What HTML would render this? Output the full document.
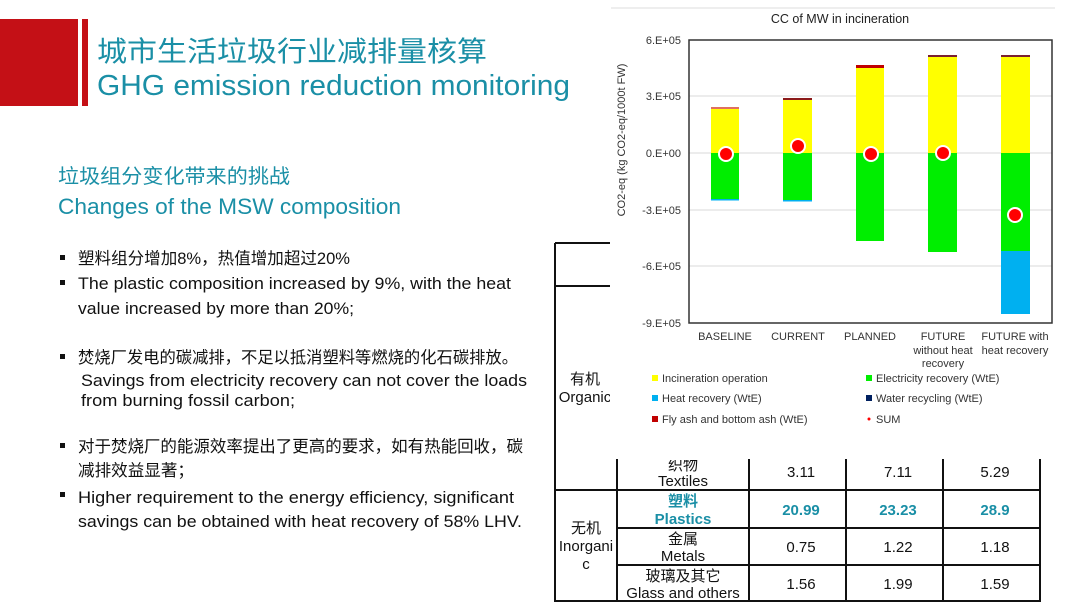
<!DOCTYPE html>
<html><head><meta charset="utf-8"><style>
html,body{margin:0;padding:0;background:#fff;}
svg{display:block;}
.cn{font-family:"Liberation Sans","Noto Sans CJK SC",sans-serif;}
.t{fill:#1a8fa6;}
.b{fill:#111;font-size:16.5px;}
.ax{font-family:"Liberation Sans",sans-serif;font-size:11px;fill:#333;}
.tb{font-family:"Liberation Sans","Noto Sans CJK SC",sans-serif;font-size:15px;fill:#111;text-anchor:middle;}
</style></head><body>
<svg width="1080" height="608" xmlns="http://www.w3.org/2000/svg">
<rect x="0" y="19" width="78" height="87" fill="#c41016"/>
<rect x="82" y="19" width="6" height="87" fill="#c41016"/>
<text class="cn t" x="97" y="61" font-size="28" textLength="390" lengthAdjust="spacingAndGlyphs">城市生活垃圾行业减排量核算</text>
<text class="cn t" x="97" y="95" font-size="29" textLength="473" lengthAdjust="spacingAndGlyphs">GHG emission reduction monitoring</text>
<text class="cn t" x="58" y="183" font-size="20" textLength="232" lengthAdjust="spacingAndGlyphs">垃圾组分变化带来的挑战</text>
<text class="cn t" x="58" y="214" font-size="22" textLength="343" lengthAdjust="spacingAndGlyphs">Changes of the MSW composition</text>
<g class="cn b">
<rect x="60" y="255" width="5" height="5"/><rect x="60" y="280" width="5" height="5"/>
<rect x="60" y="354" width="5" height="5"/><rect x="60" y="443" width="5" height="5"/><rect x="60" y="492" width="5" height="5"/>
<text x="78" y="264" textLength="272" lengthAdjust="spacingAndGlyphs">塑料组分增加8%，热值增加超过20%</text>
<text x="78" y="289" textLength="433" lengthAdjust="spacingAndGlyphs">The plastic composition increased by 9%, with the heat</text>
<text x="78" y="314" textLength="276" lengthAdjust="spacingAndGlyphs">value increased by more than 20%;</text>
<text x="78" y="363" textLength="440" lengthAdjust="spacingAndGlyphs">焚烧厂发电的碳减排，不足以抵消塑料等燃烧的化石碳排放。</text>
<text x="81" y="386" textLength="446" lengthAdjust="spacingAndGlyphs">Savings from electricity recovery can not cover the loads</text>
<text x="81" y="406" textLength="214" lengthAdjust="spacingAndGlyphs">from burning fossil carbon;</text>
<text x="78" y="452" textLength="445" lengthAdjust="spacingAndGlyphs">对于焚烧厂的能源效率提出了更高的要求，如有热能回收，碳</text>
<text x="78" y="476" textLength="116" lengthAdjust="spacingAndGlyphs">减排效益显著；</text>
<text x="78" y="503" textLength="436" lengthAdjust="spacingAndGlyphs">Higher requirement to the energy efficiency, significant</text>
<text x="78" y="527" textLength="444" lengthAdjust="spacingAndGlyphs">savings can be obtained with heat recovery of 58% LHV.</text>
</g>
<!-- table -->
<g stroke="#111" stroke-width="2" fill="none">
<path d="M555 243H610M555 286H610M555 243V602"/>
<path d="M617 459V602M749 459V602M846 459V602M943 459V602M1040 459V602"/>
<path d="M555 490H1040M617 528H1040M617 565H1040M555 601H1040"/>
</g>
<text class="tb" x="585" y="384">有机</text>
<text class="tb" x="585" y="402">Organic</text>
<rect x="610" y="360" width="8" height="60" fill="#fff"/>
<text class="tb" x="683" y="470" font-size="13">织物</text>
<rect x="618" y="452" width="130" height="8" fill="#fff"/>
<text class="tb" x="683" y="486">Textiles</text>
<text class="tb" x="801" y="477">3.11</text><text class="tb" x="898" y="477">7.11</text><text class="tb" x="995" y="477">5.29</text>
<text class="tb" x="683" y="506" style="fill:#1a8fa6;font-weight:bold">塑料</text>
<text class="tb" x="683" y="524" style="fill:#1a8fa6;font-weight:bold">Plastics</text>
<text class="tb" x="801" y="515" style="fill:#1a8fa6;font-weight:bold">20.99</text>
<text class="tb" x="898" y="515" style="fill:#1a8fa6;font-weight:bold">23.23</text>
<text class="tb" x="995" y="515" style="fill:#1a8fa6;font-weight:bold">28.9</text>
<text class="tb" x="683" y="544">金属</text><text class="tb" x="683" y="561">Metals</text>
<text class="tb" x="801" y="552">0.75</text><text class="tb" x="898" y="552">1.22</text><text class="tb" x="995" y="552">1.18</text>
<text class="tb" x="683" y="581">玻璃及其它</text><text class="tb" x="683" y="598">Glass and others</text>
<text class="tb" x="801" y="589">1.56</text><text class="tb" x="898" y="589">1.99</text><text class="tb" x="995" y="589">1.59</text>
<text class="tb" x="586" y="533">无机</text><text class="tb" x="586" y="551">Inorgani</text><text class="tb" x="586" y="569">c</text>
<!-- chart -->
<rect x="611" y="8" width="444" height="440" fill="#fff"/>
<line x1="611" y1="8" x2="1055" y2="8" stroke="#ddd"/>
<text x="840" y="23" font-family="Liberation Sans" font-size="12.5" fill="#222" text-anchor="middle">CC of MW in incineration</text>
<g stroke="#d9d9d9"><line x1="689" y1="96" x2="1052" y2="96"/><line x1="689" y1="153" x2="1052" y2="153"/><line x1="689" y1="210" x2="1052" y2="210"/><line x1="689" y1="266" x2="1052" y2="266"/></g>
<g class="ax" text-anchor="end">
<text x="681" y="44">6.E+05</text><text x="681" y="100">3.E+05</text><text x="681" y="157">0.E+00</text>
<text x="681" y="214">-3.E+05</text><text x="681" y="270">-6.E+05</text><text x="681" y="327">-9.E+05</text>
</g>
<text class="ax" transform="translate(625,140) rotate(-90)" text-anchor="middle" font-size="10.5">CO2-eq (kg CO2-eq/1000t FW)</text>
<!-- bars -->
<rect x="711" y="153" width="28" height="47" fill="#00ee00"/><rect x="711" y="199" width="28" height="1.5" fill="#00b0f0"/>
<rect x="711" y="109" width="28" height="44" fill="#ffff00"/><rect x="711" y="107" width="28" height="2" fill="#e07060"/>
<rect x="783" y="153" width="29" height="48" fill="#00ee00"/><rect x="783" y="200" width="29" height="1.5" fill="#00b0f0"/>
<rect x="783" y="100" width="29" height="53" fill="#ffff00"/><rect x="783" y="98" width="29" height="2" fill="#8b1a1a"/>
<rect x="856" y="153" width="28" height="88" fill="#00ee00"/>
<rect x="856" y="68" width="28" height="85" fill="#ffff00"/><rect x="856" y="65" width="28" height="3" fill="#c00000"/>
<rect x="928" y="153" width="29" height="99" fill="#00ee00"/>
<rect x="928" y="57" width="29" height="96" fill="#ffff00"/><rect x="928" y="55" width="29" height="2" fill="#7a2030"/>
<rect x="1001" y="153" width="29" height="98" fill="#00ee00"/><rect x="1001" y="251" width="29" height="63" fill="#00b0f0"/>
<rect x="1001" y="57" width="29" height="96" fill="#ffff00"/><rect x="1001" y="55" width="29" height="2" fill="#7a2030"/>
<g fill="#ff0000" stroke="#fff" stroke-width="2">
<circle cx="726" cy="154" r="7"/><circle cx="798" cy="146" r="7"/><circle cx="871" cy="154" r="7"/><circle cx="943" cy="153" r="7"/><circle cx="1015" cy="215" r="7"/>
</g>
<rect x="689" y="40" width="363" height="283" fill="none" stroke="#333" stroke-width="1.5"/>
<g class="ax" text-anchor="middle">
<text x="725" y="340">BASELINE</text><text x="798" y="340">CURRENT</text><text x="870" y="340">PLANNED</text>
<text x="943" y="340">FUTURE</text><text x="943" y="354">without heat</text><text x="943" y="367">recovery</text>
<text x="1015" y="340">FUTURE with</text><text x="1015" y="354">heat recovery</text>
</g>
<g class="ax" font-size="10.5">
<rect x="652" y="375" width="6" height="6" fill="#ffff00"/><text x="662" y="382">Incineration operation</text>
<rect x="652" y="395" width="6" height="6" fill="#00b0f0"/><text x="662" y="402">Heat recovery (WtE)</text>
<rect x="652" y="416" width="6" height="6" fill="#c00000"/><text x="662" y="423">Fly ash and bottom ash (WtE)</text>
<rect x="866" y="375" width="6" height="6" fill="#00ee00"/><text x="876" y="382">Electricity recovery (WtE)</text>
<rect x="866" y="395" width="6" height="6" fill="#002060"/><text x="876" y="402">Water recycling (WtE)</text>
<circle cx="869" cy="419" r="1.5" fill="#ff0000"/><text x="876" y="423">SUM</text>
</g>
</svg>
</body></html>
